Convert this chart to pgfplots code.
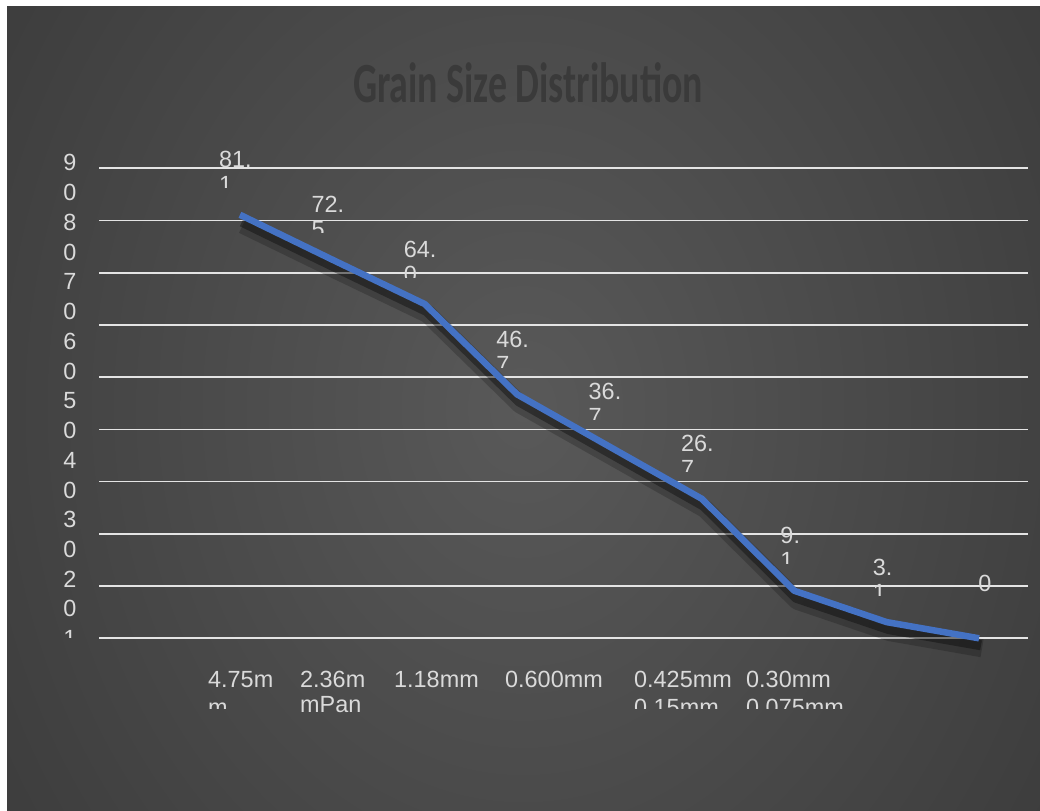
\documentclass[border=0pt]{standalone}
\usepackage{fontspec}
\setmainfont{Liberation Sans}
\newfontfamily\titlefont{Carlito}
\usepackage{pgfplots}
\pgfplotsset{compat=1.18}

\definecolor{lineblue}{HTML}{4472C4}
\definecolor{gridc}{HTML}{E4E4E4}
\definecolor{lblc}{HTML}{DADADA}
\definecolor{titlec}{HTML}{3A3A3A}
\definecolor{bgin}{HTML}{595959}
\definecolor{bgout}{HTML}{2A2A2A}
\pgfdeclareradialshading{bgshade}{\pgfpoint{0bp}{0bp}}{%
  color(0bp)=(bgin); color(50bp)=(bgout); color(80bp)=(bgout)}

\tikzset{lbl/.style={inner sep=0pt, text=lblc, font=\fontsize{23.5}{25}\selectfont}}

% data label: point, x offset of left edge, first line, second line (cut)
\newcommand\dlab[4]{%
  \begin{scope}
    \clip ([shift={(-45bp,27bp)}]#1) rectangle ([shift={(45bp,80bp)}]#1);
    \node[lbl, anchor=base west] at ([shift={(#2bp,47bp)}]#1) {#3};
    \node[lbl, anchor=base west] at ([shift={(#2bp,22bp)}]#1) {#4};
  \end{scope}}

\begin{document}
\begin{tikzpicture}
\begin{scope}[x=1bp, y=1bp]
  \fill[white] (0,0) rectangle (1040,811);
  \begin{scope}
    \clip (7,0) rectangle (1040,804);
    \shade[shading=bgshade] (3,-235) rectangle (1043,1041);
  \end{scope}
  \node[anchor=base, text=titlec, inner sep=0pt] at (528,708)
    {\scalebox{1}[1.5]{\titlefont\bfseries\fontsize{38}{40}\selectfont Grain Size Distribution}};
\end{scope}

\begin{axis}[
    at={(99bp,172.7bp)}, anchor=south west,
    scale only axis,
    width=929bp, height=470bp,
    xmin=-1.526, xmax=8.53,
    ymin=0, ymax=90,
    xtick=\empty,
    ytick={0,10,...,90},
    yticklabels={},
    ymajorgrids,
    grid style={gridc, line width=1.6bp},
    axis line style={draw=none},
    major tick length=0pt,
    clip=false,
]
\addplot[draw=black, opacity=0.2, line width=18bp, line join=round, xshift=3bp, yshift=-10bp]
  coordinates {(0,81.1) (1,72.5) (2,64.0) (3,46.7) (4,36.7) (5,26.7) (6,9.1) (7,3.1) (8,0)};
\addplot[draw=black, opacity=0.35, line width=10bp, line join=round, xshift=2bp, yshift=-7bp]
  coordinates {(0,81.1) (1,72.5) (2,64.0) (3,46.7) (4,36.7) (5,26.7) (6,9.1) (7,3.1) (8,0)};
\addplot[draw=lineblue, line width=6.5bp, line join=round]
  coordinates {(0,81.1) (1,72.5) (2,64.0) (3,46.7) (4,36.7) (5,26.7) (6,9.1) (7,3.1) (8,0)};
\coordinate (p0) at (axis cs:0,81.1);
\coordinate (p1) at (axis cs:1,72.5);
\coordinate (p2) at (axis cs:2,64.0);
\coordinate (p3) at (axis cs:3,46.7);
\coordinate (p4) at (axis cs:4,36.7);
\coordinate (p5) at (axis cs:5,26.7);
\coordinate (p6) at (axis cs:6,9.1);
\coordinate (p7) at (axis cs:7,3.1);
\coordinate (p8) at (axis cs:8,0);
\end{axis}

\dlab{p0}{-21}{81.}{1}
\dlab{p1}{-21}{72.}{5}
\dlab{p2}{-21}{64.}{0}
\dlab{p3}{-21}{46.}{7}
\dlab{p4}{-21}{36.}{7}
\dlab{p5}{-21}{26.}{7}
\dlab{p6}{-14}{9.}{1}
\dlab{p7}{-14}{3.}{1}
\dlab{p8}{-1}{0}{}

\begin{scope}[x=1bp, y=1bp]
  % y tick labels, wrapped digit by digit
  \begin{scope}
    \clip (50,173) rectangle (100,680);
    \foreach \t [count=\i from 0] in {9,0,8,0,7,0,6,0,5,0,4,0,3,0,2,0,1}
      \node[lbl, anchor=base] at (70,{640-29.73*\i}) {\t};
  \end{scope}
  % category labels
  \node[lbl, anchor=base west] at (208,123) {4.75m};
  \node[lbl, anchor=base west] at (300,123) {2.36m};
  \node[lbl, anchor=base west] at (394,123) {1.18mm};
  \node[lbl, anchor=base west] at (505,123) {0.600mm};
  \node[lbl, anchor=base west] at (634,123) {0.425mm};
  \node[lbl, anchor=base west] at (746,123) {0.30mm};
  \node[lbl, anchor=base west] at (300,98) {mPan};
  \begin{scope}
    \clip (150,102) rectangle (900,120);
    \node[lbl, anchor=base west] at (208,95) {m};
    \node[lbl, anchor=base west] at (634,95) {0.15mm};
    \node[lbl, anchor=base west] at (746,95) {0.075mm};
  \end{scope}
\end{scope}
\end{tikzpicture}
\end{document}
